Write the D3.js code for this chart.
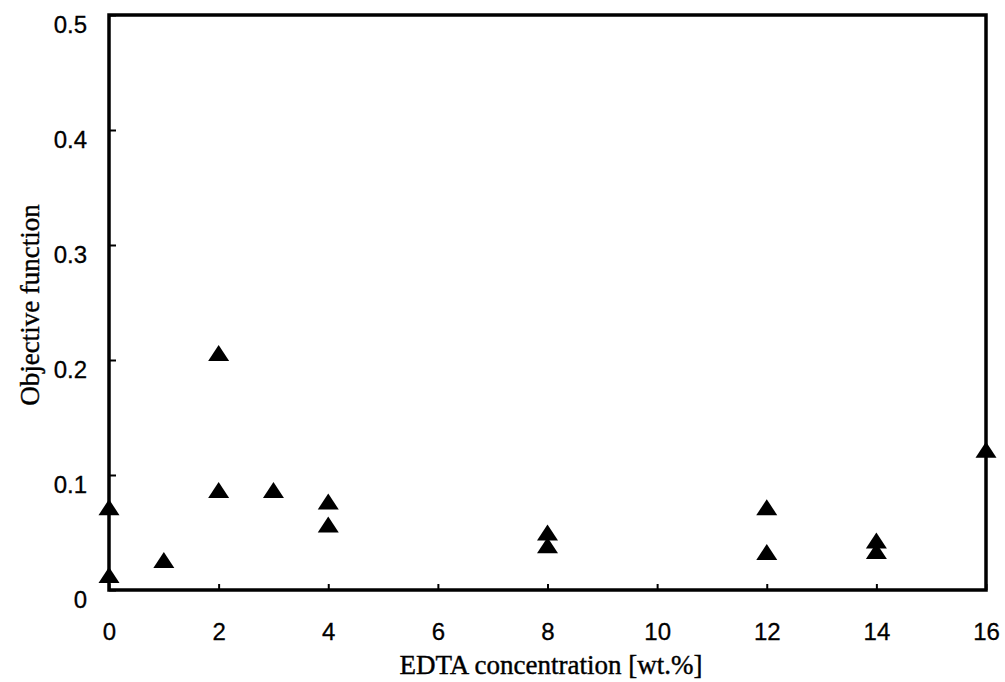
<!DOCTYPE html>
<html>
<head>
<meta charset="utf-8">
<script src="https://cdn.jsdelivr.net/npm/d3@7"></script>
<style>
  body { margin: 0; background: #fff; }
  svg { display: block; }
</style>
</head>
<body>
<div id="chart"></div>
<script>
// EDTA concentration [wt.%] vs objective function
const edta = [0, 0, 1, 2, 2, 3, 4, 4, 8, 8, 12, 12, 14, 14, 16]
const objective = [0.072, 0.013, 0.026, 0.206, 0.087, 0.087, 0.077, 0.057, 0.050, 0.039, 0.072, 0.033, 0.043, 0.034, 0.122]
const xTicks = [0, 2, 4, 6, 8, 10, 12, 14, 16]
const yTicks = [0, 0.1, 0.2, 0.3, 0.4, 0.5]

const width = 1005
const height = 682
const margin = { top: 15, right: 19, bottom: 92, left: 109 }

const data = edta.map((d, i) => ({ x: d, y: objective[i] }))

const x = d3.scaleLinear().domain([0, 16]).range([margin.left, width - margin.right])
const y = d3.scaleLinear().domain([0, 0.5]).range([height - margin.bottom, margin.top])

const svg = d3.select('#chart').append('svg')
  .attr('width', width)
  .attr('height', height)

// x axis ticks + labels
const xAxis = svg.append('g')
  .attr('transform', `translate(0,${y(0)})`)
  .call(d3.axisBottom(x).tickValues(xTicks).tickSizeInner(-6).tickSizeOuter(0).tickPadding(33).tickFormat(d3.format('d')))
xAxis.select('.domain').remove()
xAxis.selectAll('line').attr('stroke', '#000').attr('stroke-width', 2)
xAxis.selectAll('text')
  .attr('font-family', 'Liberation Sans, Arial, sans-serif')
  .attr('font-size', 24)
  .attr('fill', '#000')
  .attr('stroke', '#000')
  .attr('stroke-width', 0.3)

// y axis ticks + labels
const yAxis = svg.append('g')
  .attr('transform', `translate(${x(0)},0)`)
  .call(d3.axisLeft(y).tickValues(yTicks).tickSizeInner(-7).tickSizeOuter(0).tickPadding(22)
    .tickFormat(d => d === 0 ? '0' : d3.format('.1f')(d)))
yAxis.select('.domain').remove()
yAxis.selectAll('line').attr('stroke', '#000').attr('stroke-width', 2)
yAxis.selectAll('text')
  .attr('font-family', 'Liberation Sans, Arial, sans-serif')
  .attr('font-size', 24)
  .attr('fill', '#000')
  .attr('stroke', '#000')
  .attr('stroke-width', 0.3)
  .attr('dy', '0.72em')

// frame
svg.append('rect')
  .attr('x', x(0))
  .attr('y', y(0.5))
  .attr('width', x(16) - x(0))
  .attr('height', y(0) - y(0.5))
  .attr('fill', 'none')
  .attr('stroke', '#000')
  .attr('stroke-width', 3.5)

// triangle markers
const tri = {
  draw (ctx, size) {
    const w = 10.5, h = 8
    ctx.moveTo(0, -h)
    ctx.lineTo(w, h)
    ctx.lineTo(-w, h)
    ctx.closePath()
  }
}

svg.selectAll('.pt')
  .data(data).enter()
  .append('path')
  .attr('class', 'pt')
  .attr('d', d3.symbol().type(tri))
  .attr('transform', d => `translate(${x(d.x)},${y(d.y)})`)
  .attr('fill', '#000')

// axis titles
svg.append('text')
  .attr('x', 551)
  .attr('y', 674)
  .attr('text-anchor', 'middle')
  .attr('font-family', 'Liberation Serif, Times New Roman, serif')
  .attr('font-size', 27)
  .attr('fill', '#000')
  .attr('stroke', '#000')
  .attr('stroke-width', 0.4)
  .text('EDTA concentration [wt.%]')

svg.append('text')
  .attr('transform', 'translate(39,305) rotate(-90)')
  .attr('text-anchor', 'middle')
  .attr('font-family', 'Liberation Serif, Times New Roman, serif')
  .attr('font-size', 27)
  .attr('fill', '#000')
  .attr('stroke', '#000')
  .attr('stroke-width', 0.4)
  .text('Objective function')
</script>
</body>
</html>
